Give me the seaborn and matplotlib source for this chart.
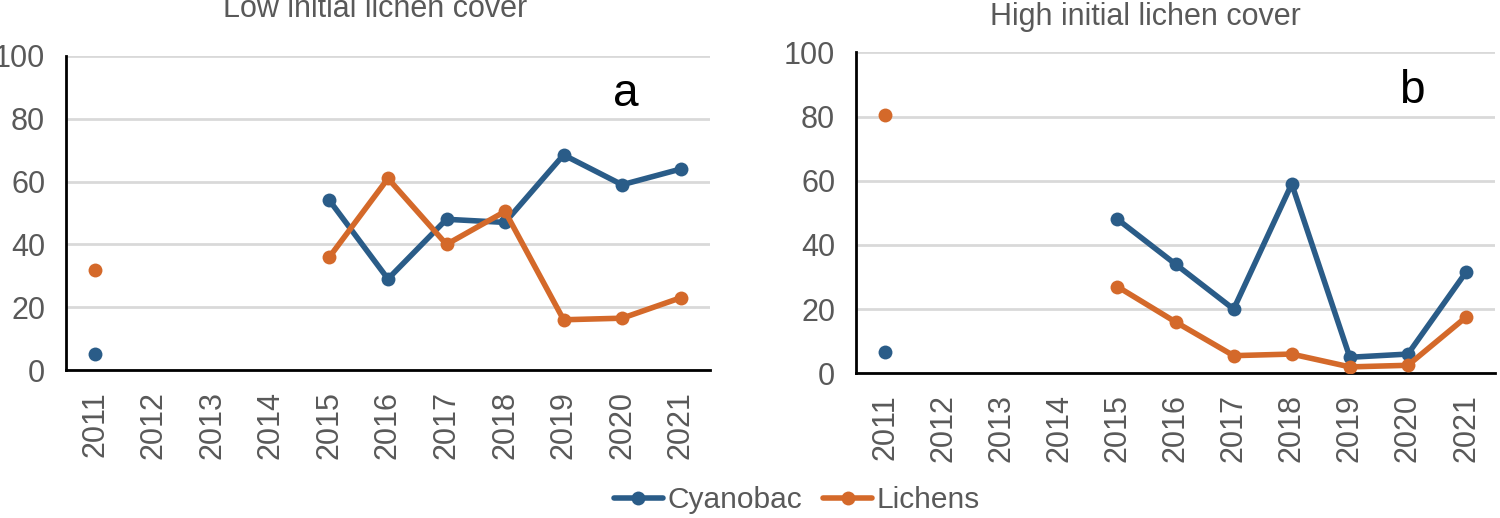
import numpy as np
import pandas as pd
import matplotlib
matplotlib.use('Agg')
import matplotlib.pyplot as plt
from matplotlib.lines import Line2D
import seaborn as sns

years = [2011, 2012, 2013, 2014, 2015, 2016, 2017, 2018, 2019, 2020, 2021]
nan = np.nan

low_cyano = [5, nan, nan, nan, 54, 29, 48, 47, 68.5, 59, 64]
low_lichens = [32, nan, nan, nan, 36, 61, 40, 50.5, 16, 16.5, 23]
high_cyano = [6.5, nan, nan, nan, 48, 34, 20, 59, 5, 6, 31.5]
high_lichens = [80.5, nan, nan, nan, 27, 16, 5.5, 6, 2, 2.5, 17.5]

series_names = ['Cyanobac', 'Lichens']
panel_titles = ['Low initial lichen cover', 'High initial lichen cover']
panel_letters = ['a', 'b']
y_ticks = [0, 20, 40, 60, 80, 100]

colors = {'Cyanobac': '#2A5C88', 'Lichens': '#D4692A'}


def make_frame(cyano, lichens):
    rows = []
    for name, vals in zip(series_names, [cyano, lichens]):
        for yr, v in zip(years, vals):
            if np.isnan(v):
                continue
            # separate the 2011 survey from the later run so they don't connect
            rows.append({'year': yr, 'value': v, 'taxon': name,
                         'segment': 0 if yr < 2013 else 1})
    return pd.DataFrame(rows)


frames = [make_frame(low_cyano, low_lichens), make_frame(high_cyano, high_lichens)]

sns.set_theme(style='white')
plt.rcParams['font.family'] = ['Liberation Sans', 'DejaVu Sans']

fig = plt.figure(figsize=(15, 5.18), dpi=100)
positions = [
    [0.044, 0.2857, 0.4293, 0.6062],
    [0.5707, 0.2793, 0.426, 0.6197],
]

for i, (df, pos) in enumerate(zip(frames, positions)):
    ax = fig.add_axes(pos)
    sns.lineplot(
        data=df,
        x='year',
        y='value',
        hue='taxon',
        hue_order=series_names,
        palette=colors,
        units='segment',
        estimator=None,
        marker='o',
        markersize=10,
        markeredgewidth=0,
        linewidth=4,
        ax=ax,
        legend=False,
        zorder=3,
    )
    ax.set_xlim(2010.5, 2021.5)
    ax.set_ylim(0, 100)
    ax.set_xticks(years)
    ax.set_xticklabels([str(y) for y in years], rotation=90)
    ax.set_yticks(y_ticks)
    ax.set_xlabel('')
    ax.set_ylabel('')
    ax.yaxis.grid(True, color='#D9D9D9', linewidth=2)
    ax.xaxis.grid(False)
    ax.set_axisbelow(True)
    for side in ['top', 'right']:
        ax.spines[side].set_visible(False)
    for side in ['left', 'bottom']:
        ax.spines[side].set_color('black')
        ax.spines[side].set_linewidth(2)
    ax.tick_params(axis='both', length=0, labelsize=22, labelcolor='#595959')
    ax.tick_params(axis='x', pad=15)
    ax.tick_params(axis='y', pad=15)
    ax.text(0.87, 0.88, panel_letters[i], transform=ax.transAxes,
            fontsize=33, color='black', ha='center', va='center')

fig.text(375 / 1500, 1 - 9 / 518, panel_titles[0], ha='center', va='center',
         fontsize=22, color='#595959')
fig.text(1145 / 1500, 1 - 17 / 518, panel_titles[1], ha='center', va='center',
         fontsize=22, color='#595959')

handles = [Line2D([0], [0], color=colors[n], linewidth=4, marker='o',
                  markersize=10, markeredgewidth=0) for n in series_names]
fig.legend(handles, series_names, loc='center', bbox_to_anchor=(797 / 1500, 1 - 500 / 518),
           ncol=2, frameon=False, fontsize=21.5, handlelength=1.65,
           handletextpad=0.15, columnspacing=0.7, labelcolor='#595959')

fig.savefig('out.png', dpi=100)
